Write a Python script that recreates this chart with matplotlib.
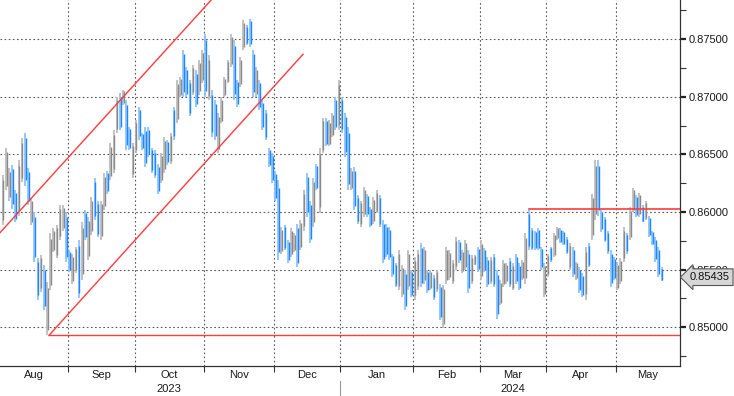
import numpy as np
import pandas as pd
import matplotlib
matplotlib.use('Agg')
import matplotlib.pyplot as plt
import matplotlib.transforms as mtransforms
from matplotlib.ticker import FormatStrFormatter

plt.rcParams.update({'font.family': ['Liberation Sans', 'DejaVu Sans'],
                     'font.size': 8})

# daily bars, 3 Aug 2023 .. 21 May 2024 (weekdays)
dates = pd.bdate_range('2023-08-03', '2024-05-21')

high = [
    # Aug
    0.8632, 0.8656, 0.8638, 0.8641, 0.8619, 0.8645, 0.8664, 0.8669, 0.8638, 0.8612, 0.8600,
    0.8560, 0.8563, 0.8554, 0.8539, 0.8582, 0.8586, 0.8589, 0.8606, 0.8606, 0.8600,
    # Sep
    0.8567, 0.8564, 0.8570, 0.8576, 0.8591, 0.8602, 0.8596, 0.8613, 0.8630, 0.8610, 0.8610,
    0.8634, 0.8636, 0.8660, 0.8671, 0.8700, 0.8703, 0.8706, 0.8697, 0.8674, 0.8660,
    # Oct
    0.8680, 0.8691, 0.8669, 0.8674, 0.8674, 0.8656, 0.8654, 0.8642, 0.8651, 0.8665, 0.8663,
    0.8669, 0.8691, 0.8715, 0.8717, 0.8741, 0.8726, 0.8715, 0.8728, 0.8723, 0.8732, 0.8741,
    # Nov
    0.8755, 0.8736, 0.8706, 0.8697, 0.8686, 0.8700, 0.8717, 0.8732, 0.8755, 0.8749, 0.8715,
    0.8735, 0.8767, 0.8762, 0.8768, 0.8741, 0.8726, 0.8715, 0.8697, 0.8689, 0.8656, 0.8651,
    # Dec
    0.8636, 0.8628, 0.8587, 0.8589, 0.8576, 0.8586, 0.8582, 0.8590, 0.8593, 0.8619, 0.8634,
    0.8610, 0.8630, 0.8642, 0.8656, 0.8682, 0.8682, 0.8680, 0.8686, 0.8700, 0.8715,
    # Jan
    0.8700, 0.8686, 0.8674, 0.8638, 0.8639, 0.8615, 0.8610, 0.8622, 0.8616, 0.8604, 0.8613,
    0.8619, 0.8615, 0.8593, 0.8590, 0.8587, 0.8564, 0.8556, 0.8567, 0.8554, 0.8550, 0.8567,
    0.8550,
    # Feb
    0.8561, 0.8567, 0.8573, 0.8570, 0.8550, 0.8550, 0.8545, 0.8550, 0.8538, 0.8537, 0.8570,
    0.8567, 0.8558, 0.8578, 0.8576, 0.8567, 0.8576, 0.8567, 0.8563, 0.8563, 0.8570,
    # Mar
    0.8576, 0.8569, 0.8561, 0.8561, 0.8564, 0.8550, 0.8541, 0.8558, 0.8556, 0.8560, 0.8556,
    0.8564, 0.8556, 0.8558, 0.8582, 0.8602, 0.8586, 0.8584, 0.8586, 0.8570, 0.8556,
    # Apr
    0.8564, 0.8570, 0.8582, 0.8587, 0.8586, 0.8584, 0.8578, 0.8573, 0.8570, 0.8557, 0.8552,
    0.8547, 0.8570, 0.8573, 0.8616, 0.8645, 0.8645, 0.8602, 0.8596, 0.8584, 0.8567, 0.8561,
    # May
    0.8557, 0.8560, 0.8587, 0.8582, 0.8604, 0.8621, 0.8615, 0.8617, 0.8606, 0.8610, 0.8597,
    0.8584, 0.8578, 0.8570, 0.8552,
]

low = [
    # Aug
    0.8589, 0.8619, 0.8610, 0.8603, 0.8591, 0.8597, 0.8626, 0.8623, 0.8606, 0.8589, 0.8557,
    0.8524, 0.8531, 0.8515, 0.8493, 0.8532, 0.8565, 0.8560, 0.8576, 0.8584, 0.8557,
    # Sep
    0.8548, 0.8538, 0.8547, 0.8525, 0.8541, 0.8576, 0.8558, 0.8580, 0.8593, 0.8578, 0.8576,
    0.8602, 0.8616, 0.8628, 0.8634, 0.8669, 0.8671, 0.8693, 0.8654, 0.8654, 0.8630,
    # Oct
    0.8651, 0.8663, 0.8654, 0.8639, 0.8648, 0.8634, 0.8630, 0.8616, 0.8625, 0.8634, 0.8641,
    0.8642, 0.8663, 0.8677, 0.8700, 0.8700, 0.8700, 0.8683, 0.8702, 0.8691, 0.8702, 0.8712,
    # Nov
    0.8700, 0.8697, 0.8665, 0.8663, 0.8651, 0.8677, 0.8700, 0.8712, 0.8726, 0.8697, 0.8691,
    0.8709, 0.8741, 0.8745, 0.8743, 0.8700, 0.8700, 0.8689, 0.8671, 0.8663, 0.8639, 0.8625,
    # Dec
    0.8610, 0.8558, 0.8564, 0.8567, 0.8556, 0.8561, 0.8565, 0.8552, 0.8567, 0.8584, 0.8596,
    0.8573, 0.8587, 0.8619, 0.8599, 0.8651, 0.8657, 0.8657, 0.8665, 0.8671, 0.8671,
    # Jan
    0.8669, 0.8648, 0.8619, 0.8619, 0.8602, 0.8590, 0.8587, 0.8596, 0.8596, 0.8587, 0.8590,
    0.8599, 0.8587, 0.8556, 0.8561, 0.8558, 0.8544, 0.8535, 0.8532, 0.8526, 0.8515, 0.8532,
    0.8526,
    # Feb
    0.8524, 0.8532, 0.8535, 0.8538, 0.8530, 0.8532, 0.8524, 0.8531, 0.8506, 0.8499, 0.8538,
    0.8541, 0.8538, 0.8550, 0.8556, 0.8547, 0.8550, 0.8530, 0.8538, 0.8554, 0.8548,
    # Mar
    0.8541, 0.8548, 0.8535, 0.8538, 0.8535, 0.8507, 0.8519, 0.8535, 0.8538, 0.8535, 0.8532,
    0.8538, 0.8532, 0.8541, 0.8538, 0.8567, 0.8567, 0.8567, 0.8567, 0.8550, 0.8526,
    # Apr
    0.8544, 0.8557, 0.8561, 0.8576, 0.8573, 0.8571, 0.8564, 0.8550, 0.8544, 0.8541, 0.8530,
    0.8526, 0.8524, 0.8552, 0.8576, 0.8593, 0.8597, 0.8583, 0.8574, 0.8564, 0.8535, 0.8541,
    # May
    0.8532, 0.8538, 0.8557, 0.8564, 0.8576, 0.8600, 0.8596, 0.8596, 0.8591, 0.8593, 0.8578,
    0.8571, 0.8557, 0.8544, 0.8540,
]

# 1 = up day (grey bar), 0 = down day (blue bar)
up = [
    1, 1, 1, 0, 0, 1, 1, 0, 0, 1, 0, 0, 1, 0, 1, 1, 1, 1, 1, 1, 0,
    0, 1, 1, 0, 1, 0, 1, 1, 0, 0, 1, 1, 0, 1, 1, 1, 0, 1, 0, 0, 1,
    1, 0, 0, 0, 0, 0, 0, 0, 1, 1, 0, 1, 0, 1, 1, 0, 0, 0, 1, 0, 1, 1,
    0, 1, 0, 0, 1, 1, 1, 1, 1, 0, 0, 1, 1, 0, 0, 0, 1, 0, 0, 0, 0, 0,
    0, 0, 1, 0, 0, 1, 1, 0, 1, 1, 0, 0, 1, 0, 1, 1, 0, 1, 1, 0, 1,
    0, 0, 0, 1, 0, 0, 1, 1, 0, 0, 1, 1, 0, 0, 0, 0, 0, 0, 1, 1, 0, 1, 0,
    1, 1, 0, 1, 0, 1, 0, 1, 0, 1, 1, 1, 1, 1, 0, 1, 1, 0, 1, 1, 0,
    1, 0, 0, 1, 0, 0, 1, 1, 1, 0, 1, 0, 0, 1, 1, 0, 0, 0, 0, 0, 1,
    1, 0, 1, 1, 0, 0, 0, 1, 0, 1, 0, 0, 1, 0, 1, 1, 0, 0, 0, 0, 0, 0,
    1, 1, 1, 0, 1, 1, 0, 1, 0, 1, 0, 0, 0, 0, 0,
]

last_price = 0.85435

# hand-drawn lines: (bar index, price)
channel_upper = ([-1.0, 66.0], [0.8582, 0.8785])
channel_lower = ([14.5, 94.7], [0.8493, 0.8737])
support_start, support_level = 14.5, 0.8493
resist_start, resist_level = 166.0, 0.8603

y_ticks = [0.850, 0.855, 0.860, 0.865, 0.870, 0.875]
y_minor = [0.8475, 0.8525, 0.8575, 0.8625, 0.8675, 0.8725, 0.8775]
month_names = ['Aug', 'Sep', 'Oct', 'Nov', 'Dec', 'Jan', 'Feb', 'Mar', 'Apr', 'May']
year_labels = {'2023': 'Oct', '2024': 'Mar'}

x_min, x_max = -0.96, 213.7
y_min, y_max = 0.84664, 0.87841

fig = plt.figure(figsize=(7.34, 3.96), dpi=100)
ax = fig.add_axes([0, 30 / 396, 680 / 734, 366 / 396])

x = np.arange(len(dates))
hi = np.array(high)
lo = np.array(low)
upm = np.array(up, dtype=bool)
rng = hi - lo

for mask, light, dark in [(upm, '#bdbdbd', '#8a8a8a'),
                          (~upm, '#8cc4ff', '#1f86ff')]:
    ax.vlines(x[mask] - 0.1, lo[mask], hi[mask], colors=light, lw=1.3)
    ax.vlines(x[mask] + 0.12, lo[mask] + 0.1 * rng[mask],
              hi[mask] - 0.1 * rng[mask], colors=dark, lw=1.0)

red = '#ff3b3b'
ax.plot(*channel_upper, color=red, lw=1.0)
ax.plot(*channel_lower, color=red, lw=1.0)
ax.plot([support_start, x_max], [support_level] * 2, color=red, lw=1.0)
ax.plot([resist_start, x_max], [resist_level] * 2, color=red, lw=1.2)

ax.set_xlim(x_min, x_max)
ax.set_ylim(y_min, y_max)

# month boundaries and label centres
months = dates.to_period('M')
starts = [i for i in range(1, len(dates)) if months[i] != months[i - 1]]
bounds = [s - 0.5 for s in starts]
edges = [x_min] + bounds + [x_max]
centres = [(a + b) / 2 for a, b in zip(edges[:-1], edges[1:])]

ax.set_xticks(bounds)
ax.set_xticklabels([])
ax.set_xticks(centres, minor=True)
ax.set_xticklabels(month_names, minor=True)
ax.tick_params(axis='x', which='major', length=4, width=0.8, color='#333')
ax.tick_params(axis='x', which='minor', length=0, pad=3, labelcolor='#1a1a1a')

ax.yaxis.tick_right()
ax.set_yticks(y_ticks)
ax.set_yticks(y_minor, minor=True)
ax.yaxis.set_major_formatter(FormatStrFormatter('%.5f'))
ax.tick_params(axis='y', which='major', length=4, width=1.6, pad=2,
               color='#222', labelcolor='#1a1a1a', labelsize=8)
ax.tick_params(axis='y', which='minor', length=4, width=0.8, color='#333')

grid_kw = dict(ls=(0, (1.5, 2.2)), color='#5a5a5a', lw=0.8)
ax.grid(axis='both', which='major', **grid_kw)
ax.set_axisbelow(True)

for s in ['left', 'top']:
    ax.spines[s].set_visible(False)
for s in ['right', 'bottom']:
    ax.spines[s].set_color('#333')
    ax.spines[s].set_linewidth(0.9)

trans = mtransforms.blended_transform_factory(ax.transData, ax.transAxes)
for yr, mon in year_labels.items():
    ax.text(centres[month_names.index(mon)], -0.063, yr, transform=trans,
            ha='center', va='center', color='#1a1a1a')
ax.plot([bounds[4], bounds[4]], [-0.040, -0.085], transform=trans,
        color='#999', lw=0.8, clip_on=False)

ax.annotate(f'{last_price:.5f}', xy=(1.0, last_price),
            xycoords=('axes fraction', 'data'), xytext=(7, 0),
            textcoords='offset points', va='center', ha='left', fontsize=8,
            color='#111', zorder=10,
            bbox=dict(boxstyle='larrow,pad=0.3', fc='#d6d6d6', ec='#555',
                      lw=0.8))

fig.savefig('out.png', dpi=100)
